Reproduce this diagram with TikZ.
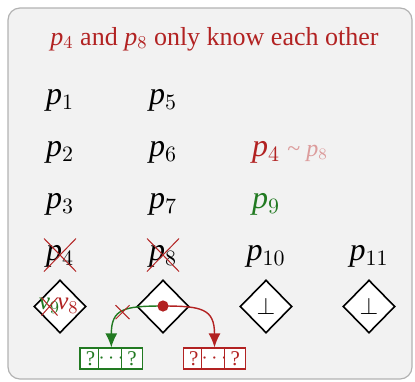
\documentclass[tikz,border=0pt]{standalone}
\usepackage{fontspec}
\setmainfont{Liberation Serif}
\usetikzlibrary{shapes.geometric,shapes.misc,arrows.meta}
\definecolor{darkred}{RGB}{178,34,34}
\definecolor{darkgreen}{RGB}{34,122,34}
\newcommand{\pid}[1]{$\mathit{p}_{#1}$}
\newcommand{\vid}[1]{$\mathit{v}_{#1}$}

\begin{document}
\begin{tikzpicture}[x=0.5pt,y=-0.5pt,
	lbl/.style={anchor=base,inner sep=0,font=\fontsize{16}{18}\selectfont},
	reg/.style={diamond,draw,thick,fill=white,minimum width=26pt,minimum height=26.5pt,inner sep=0},
	cell/.style={rectangle,draw,fill=white,line width=0.6pt,minimum size=10.5pt,inner sep=0,font=\fontsize{10.5}{11}\selectfont},
	strike/.style={cross out,draw=darkred,line width=0.5pt,inner sep=0},
	link/.style={line width=0.7pt,-{Latex[length=7pt,width=6pt]}}]
	\useasboundingbox (0,0) rectangle (415,381);
	\draw[rounded corners=6pt,draw=gray!60,line width=0.6pt,fill=black!5] (8,8) rectangle (412,379);
	\node[anchor=base,darkred,font=\fontsize{13}{15}\selectfont] (title) at (214.5,45) {\pid{4} and \pid{8} only know each other};
	% processes
	\node[lbl] (p1) at (60,104) {\pid{1}};
	\node[lbl] (p2) at (60,156) {\pid{2}};
	\node[lbl] (p3) at (60,208) {\pid{3}};
	\node[lbl] (p4) at (60,260) {\pid{4}};
	\node[lbl] (p5) at (163,104) {\pid{5}};
	\node[lbl] (p6) at (163,156) {\pid{6}};
	\node[lbl] (p7) at (163,208) {\pid{7}};
	\node[lbl] (p8) at (163,260) {\pid{8}};
	\node[lbl,darkred] (q4) at (266,156) {\pid{4}};
	\node[anchor=base west,inner sep=0,darkred!45,font=\fontsize{12}{12}\selectfont] (q8) at (287,156) {\textasciitilde{} \pid{8}};
	\node[lbl,darkgreen] (p9) at (266,208) {\pid{9}};
	\node[lbl] (p10) at (266,260) {\pid{10}};
	\node[lbl] (p11) at (369,260) {\pid{11}};
	\node[strike,minimum width=15.5pt,minimum height=16pt] (x4) at (60,255) {};
	\node[strike,minimum width=15.5pt,minimum height=16pt] (x8) at (163,255) {};
	% registers
	\node[reg] (r1) at (60,306.5) {};
	\node[reg] (r2) at (163,306.5) {};
	\node[reg,font=\fontsize{13}{13}\selectfont] (r3) at (266,306.5) {$\bot$};
	\node[reg,font=\fontsize{13}{13}\selectfont] (r4) at (369,306.5) {$\bot$};
	\node[darkgreen,inner sep=0,font=\fontsize{12.5}{13}\selectfont] (v9) at (49.5,306) {\vid{9}};
	\node[darkred,inner sep=0,font=\fontsize{12.5}{13}\selectfont] (v8) at (68,306) {\vid{8}};
	\node[strike,minimum width=7.5pt,minimum height=8.5pt] (x9) at (49.5,306.5) {};
	% arrays
	\begin{scope}[darkgreen]
	\node[cell] (g1) at (90.5,358.5) {?};
	\node[cell] (g2) at (111.3,358.5) {$\cdots$};
	\node[cell] (g3) at (132.1,358.5) {?};
	\end{scope}
	\begin{scope}[darkred]
	\node[cell] (h1) at (193.7,358.5) {?};
	\node[cell] (h2) at (214.5,358.5) {$\cdots$};
	\node[cell] (h3) at (235.3,358.5) {?};
	\end{scope}
	\coordinate (dot) at (163,306);
	\draw[darkgreen,link] (dot) to[out=180,in=90,looseness=1.5] node[pos=0.5,strike,minimum size=6.5pt] (cut) {} (g2.north);
	\draw[darkred,link] (dot) to[out=0,in=90,looseness=1.5] (h2.north);
	\fill[darkred] (dot) circle (2.8pt);
\end{tikzpicture}
\end{document}
